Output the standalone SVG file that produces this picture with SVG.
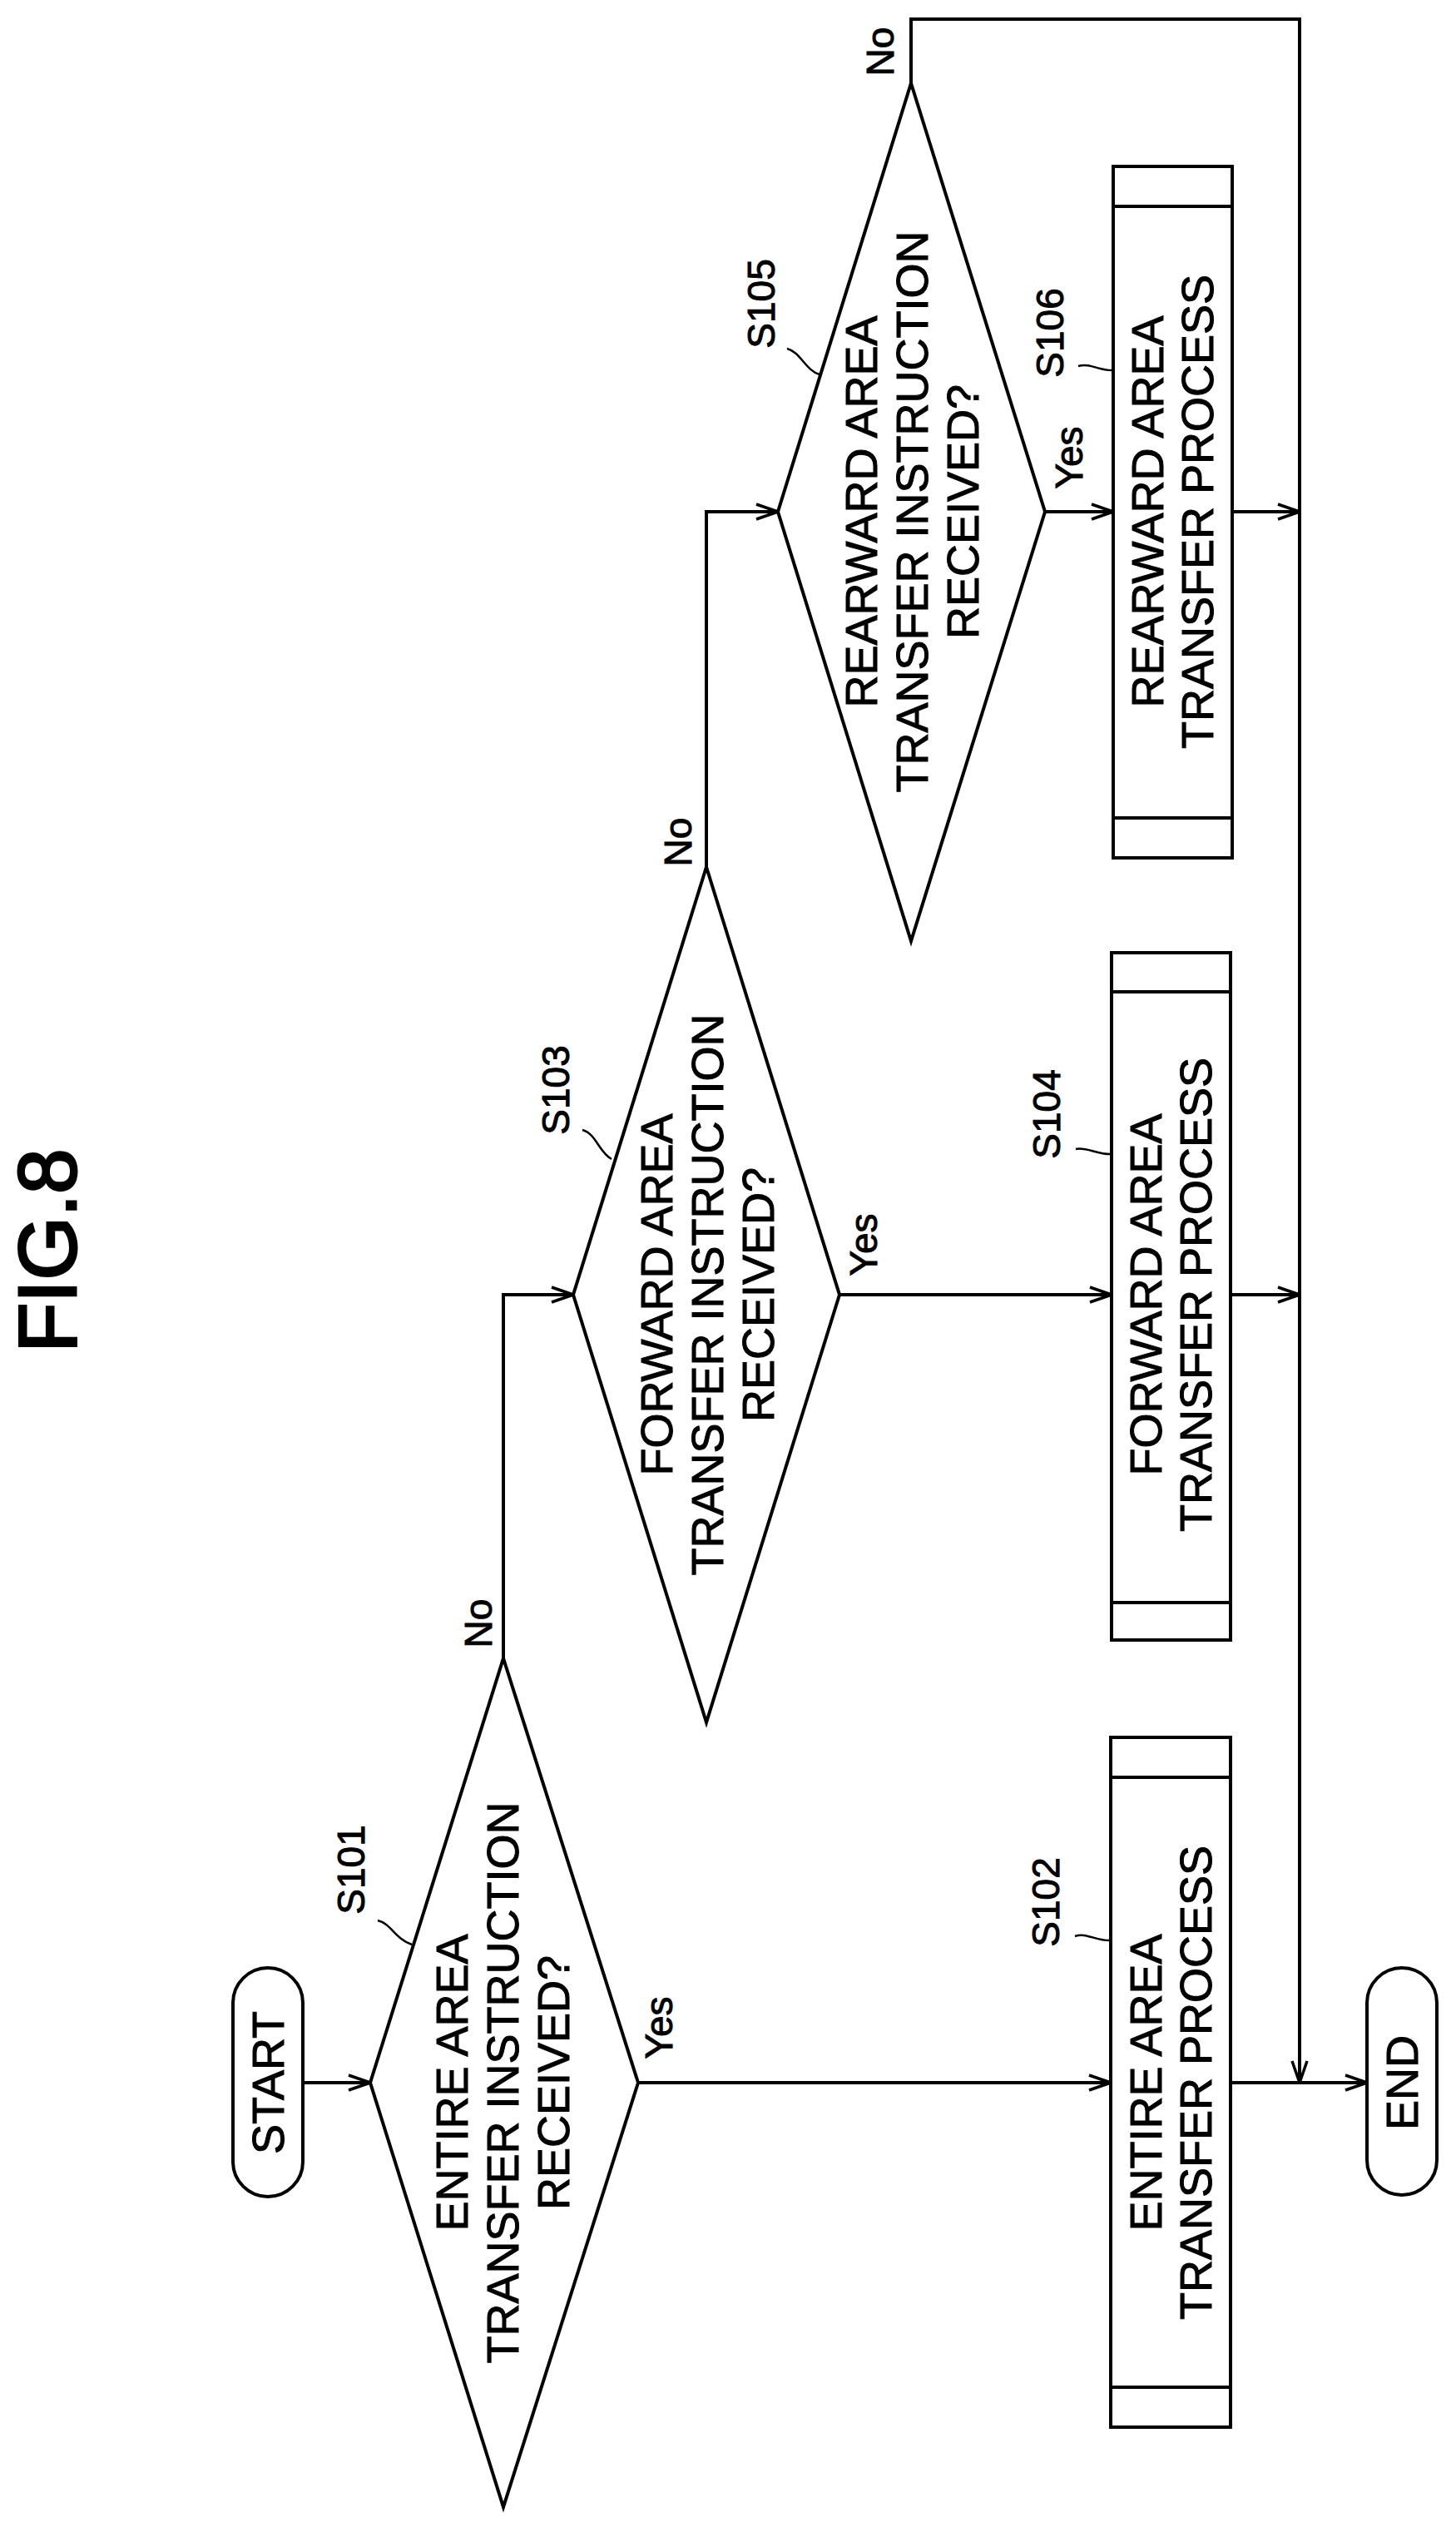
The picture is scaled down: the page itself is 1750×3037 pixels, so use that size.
<svg xmlns="http://www.w3.org/2000/svg" width="1750" height="3037" viewBox="0 0 1750 3037">
<defs>
<style>
text{font-family:"Liberation Sans",Arial,sans-serif;fill:#000;stroke:#000;stroke-width:1;text-anchor:middle;dominant-baseline:central}
.t{font-size:54px}
.l{font-size:46px}
.s{fill:none;stroke:#000;stroke-width:4}
.c{fill:none;stroke:#000;stroke-width:4}
.ld{fill:none;stroke:#000;stroke-width:2.5}
</style>
<marker id="a" markerWidth="30" markerHeight="22" refX="28" refY="11" orient="auto" markerUnits="userSpaceOnUse">
<path d="M2,2 L28,11 L2,20" fill="none" stroke="#000" stroke-width="3.5"/>
</marker>
</defs>
<rect width="1750" height="3037" fill="#fff"/>
<text transform="translate(57,1503) rotate(-90)" style="font-size:98px;stroke-width:3">FIG.8</text>

<g id="start">
<rect class="s" x="280" y="2365" width="84" height="275" rx="42"/>
<text class="t" transform="translate(322,2503) rotate(-90)">START</text>
</g>

<g id="s101">
<polygon class="s" points="605,1993 767,2503 605,3013 445,2503"/>
<text class="t" transform="translate(604,2503) rotate(-90)"><tspan x="0" y="-61">ENTIRE AREA</tspan><tspan x="0" y="0">TRANSFER INSTRUCTION</tspan><tspan x="0" y="61">RECEIVED?</tspan></text>
<text class="l" transform="translate(422,2247) rotate(-90)">S101</text>
<path class="ld" d="M454,2308 C470,2312 475,2330 495,2337"/>
</g>

<g id="s102">
<rect class="s" x="1335" y="2088" width="144" height="829"/>
<line class="s" x1="1335" y1="2136" x2="1479" y2="2136"/>
<line class="s" x1="1335" y1="2869" x2="1479" y2="2869"/>
<text class="t" transform="translate(1407,2503) rotate(-90)"><tspan x="0" y="-30">ENTIRE AREA</tspan><tspan x="0" y="30">TRANSFER PROCESS</tspan></text>
<text class="l" transform="translate(1257,2286) rotate(-90)">S102</text>
<path class="ld" d="M1292,2327 C1305,2322 1318,2333 1335,2332"/>
</g>

<g id="s103">
<polygon class="s" points="849,1042 1009,1556 849,2070 689,1556"/>
<text class="t" transform="translate(850,1556) rotate(-90)"><tspan x="0" y="-61">FORWARD AREA</tspan><tspan x="0" y="0">TRANSFER INSTRUCTION</tspan><tspan x="0" y="61">RECEIVED?</tspan></text>
<text class="l" transform="translate(668,1310) rotate(-90)">S103</text>
<path class="ld" d="M700,1358 C716,1362 720,1385 735,1393"/>
</g>

<g id="s104">
<rect class="s" x="1336" y="1145" width="143" height="826"/>
<line class="s" x1="1336" y1="1192" x2="1479" y2="1192"/>
<line class="s" x1="1336" y1="1926" x2="1479" y2="1926"/>
<text class="t" transform="translate(1407,1556) rotate(-90)"><tspan x="0" y="-30">FORWARD AREA</tspan><tspan x="0" y="30">TRANSFER PROCESS</tspan></text>
<text class="l" transform="translate(1258,1339) rotate(-90)">S104</text>
<path class="ld" d="M1293,1381 C1305,1378 1320,1388 1336,1387"/>
</g>

<g id="s105">
<polygon class="s" points="1095,100 1256,615 1095,1131 935,615"/>
<text class="t" transform="translate(1096,615) rotate(-90)"><tspan x="0" y="-61">REARWARD AREA</tspan><tspan x="0" y="0">TRANSFER INSTRUCTION</tspan><tspan x="0" y="61">RECEIVED?</tspan></text>
<text class="l" transform="translate(915,365) rotate(-90)">S105</text>
<path class="ld" d="M946,419 C962,423 968,445 985,450"/>
</g>

<g id="s106">
<rect class="s" x="1338" y="200" width="143" height="831"/>
<line class="s" x1="1338" y1="248" x2="1481" y2="248"/>
<line class="s" x1="1338" y1="983" x2="1481" y2="983"/>
<text class="t" transform="translate(1409,615) rotate(-90)"><tspan x="0" y="-30">REARWARD AREA</tspan><tspan x="0" y="30">TRANSFER PROCESS</tspan></text>
<text class="l" transform="translate(1262,400) rotate(-90)">S106</text>
<path class="ld" d="M1296,440 C1310,436 1322,446 1338,445"/>
</g>

<g id="end">
<rect class="s" x="1643" y="2365" width="84" height="273" rx="42"/>
<text class="t" transform="translate(1685,2503) rotate(-90)">END</text>
</g>

<g id="connectors">
<line class="c" x1="364" y1="2503" x2="445" y2="2503" marker-end="url(#a)"/>
<line class="c" x1="767" y1="2503" x2="1335" y2="2503" marker-end="url(#a)"/>
<line class="c" x1="1479" y1="2503" x2="1643" y2="2503" marker-end="url(#a)"/>
<polyline class="c" points="605,1993 605,1556 689,1556" marker-end="url(#a)"/>
<line class="c" x1="1009" y1="1556" x2="1336" y2="1556" marker-end="url(#a)"/>
<line class="c" x1="1479" y1="1556" x2="1562" y2="1556" marker-end="url(#a)"/>
<polyline class="c" points="849,1042 849,615 935,615" marker-end="url(#a)"/>
<line class="c" x1="1256" y1="615" x2="1338" y2="615" marker-end="url(#a)"/>
<line class="c" x1="1481" y1="615" x2="1562" y2="615" marker-end="url(#a)"/>
<polyline class="c" points="1095,100 1095,23 1562,23 1562,2503" marker-end="url(#a)"/>
<text class="l" transform="translate(792,2437) rotate(-90)">Yes</text>
<text class="l" transform="translate(575,1951) rotate(-90)">No</text>
<text class="l" transform="translate(1038,1496) rotate(-90)">Yes</text>
<text class="l" transform="translate(815,1012) rotate(-90)">No</text>
<text class="l" transform="translate(1285,550) rotate(-90)">Yes</text>
<text class="l" transform="translate(1058,62) rotate(-90)">No</text>
</g>
</svg>
